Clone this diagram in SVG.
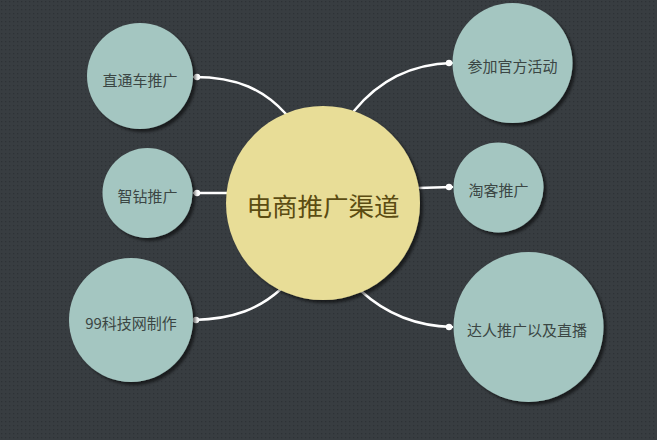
<svg xmlns="http://www.w3.org/2000/svg" width="657" height="440" viewBox="0 0 657 440">
<defs>
<pattern id="dots" width="4" height="4" patternUnits="userSpaceOnUse">
<rect width="4" height="4" fill="#383d41"/>
<rect x="1" y="1" width="1.3" height="1.3" fill="#2e3236"/>
</pattern>
<filter id="sh" x="-20%" y="-20%" width="140%" height="140%">
<feGaussianBlur in="SourceAlpha" stdDeviation="1.5"/>
<feOffset dx="3" dy="3" result="b"/>
<feComponentTransfer in="b" result="c"><feFuncA type="linear" slope="0.55"/></feComponentTransfer>
<feMerge><feMergeNode in="c"/><feMergeNode in="SourceGraphic"/></feMerge>
</filter>
</defs>
<style>
.child{fill:#a4c6c1;filter:url(#sh)}
.center{fill:#e8dd97;filter:url(#sh)}
.ct{font-family:"Noto Sans CJK SC","Liberation Sans",sans-serif;font-size:15px;fill:#3b4644;text-anchor:middle;dominant-baseline:central}
.mt{font-family:"Noto Sans CJK SC","Liberation Sans",sans-serif;font-size:25.5px;fill:#5b4c12;text-anchor:middle;dominant-baseline:central}
.conn path{fill:none;stroke:#ffffff;stroke-width:2.5;stroke-linecap:round}
.conn circle{fill:#ffffff}
</style>
<rect width="657" height="440" fill="url(#dots)"/>
<g id="connectors" class="conn">
<path d="M286,114 C264,90 238,77 194,77"/>
<circle cx="197" cy="77" r="3.2"/>
<path d="M228,193 L194,193"/>
<circle cx="197" cy="193" r="3.2"/>
<path d="M281,289 C260,308 235,319 194,320"/>
<circle cx="196" cy="320" r="3.2"/>
<path d="M354,111 C376,84 408,64 452,63"/>
<circle cx="449" cy="63" r="3.2"/>
<path d="M418,188 L452,187"/>
<circle cx="449" cy="187" r="3.2"/>
<path d="M361,291 C385,313 414,326 452,327"/>
<circle cx="449" cy="327" r="3.2"/>
</g>
<g id="center">
<circle class="center" cx="323" cy="203" r="97"/>
<text class="mt" x="323" y="204">电商推广渠道</text>
</g>
<g id="n1">
<circle class="child" cx="140" cy="76" r="53"/>
<text class="ct" x="140" y="79">直通车推广</text>
</g>
<g id="n2">
<circle class="child" cx="147.5" cy="193" r="45"/>
<text class="ct" x="147.5" y="195">智钻推广</text>
</g>
<g id="n3">
<circle class="child" cx="131" cy="320" r="62"/>
<text class="ct" x="131" y="322">99科技网制作</text>
</g>
<g id="n4">
<circle class="child" cx="512.5" cy="63" r="60"/>
<text class="ct" x="512.5" y="65">参加官方活动</text>
</g>
<g id="n5">
<circle class="child" cx="498.5" cy="187.5" r="45"/>
<text class="ct" x="498.5" y="189">淘客推广</text>
</g>
<g id="n6">
<circle class="child" cx="528.5" cy="327" r="75"/>
<text class="ct" x="527" y="329">达人推广以及直播</text>
</g>
</svg>
